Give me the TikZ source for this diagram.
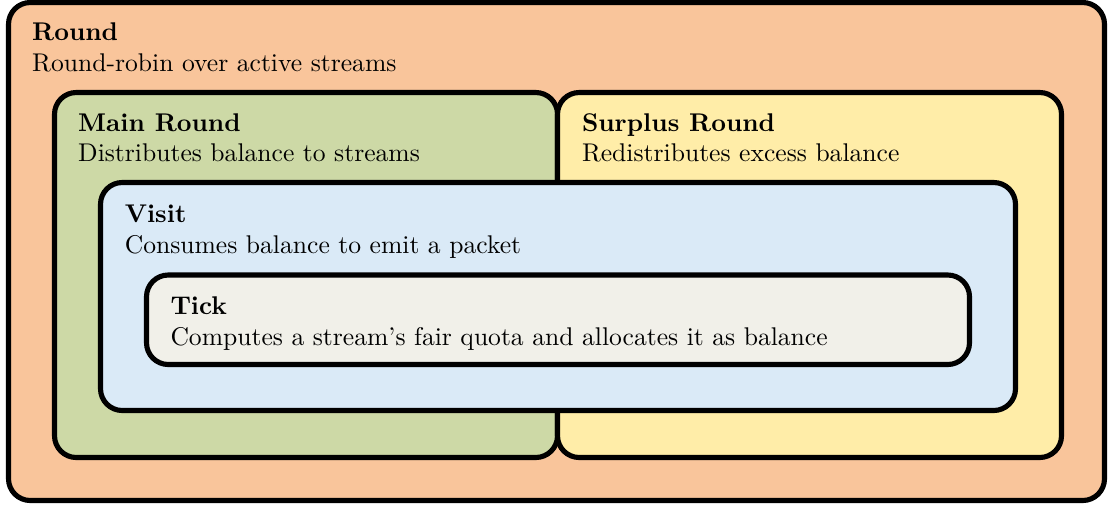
\documentclass[tikz,border=0pt]{standalone}
\usetikzlibrary{fit}
\definecolor{roundfill}{RGB}{249,197,155}
\definecolor{mainfill}{RGB}{205,217,166}
\definecolor{surplusfill}{RGB}{255,237,168}
\definecolor{visitfill}{RGB}{218,234,247}
\definecolor{tickfill}{RGB}{241,240,233}
\tikzset{
  box/.style={draw=black, line width=2pt, rounded corners=8.5pt, inner sep=0pt},
  title/.style={anchor=base west, inner sep=0pt, font=\bfseries},
  desc/.style={anchor=base west, inner sep=0pt},
}
\begin{document}
\begin{tikzpicture}[x=0.3906pt, y=-0.3906pt]
  \useasboundingbox (0,0) rectangle (1108,510);

  % nested scheduling levels, outermost first
  \coordinate (r1) at (8.5,2.5);    \coordinate (r2) at (1104.5,500.5);
  \coordinate (m1) at (54.5,92.5);  \coordinate (m2) at (557.5,457.5);
  \coordinate (s1) at (557.5,92.5); \coordinate (s2) at (1061.5,457.5);
  \coordinate (v1) at (100.5,182.5);\coordinate (v2) at (1015.5,410.5);
  \coordinate (t1) at (146.5,275);  \coordinate (t2) at (969.5,364.5);

  \node[box, fill=roundfill, fit=(r1)(r2)] (round) {};
  \node[box, fill=mainfill, fit=(m1)(m2)] (main) {};
  \node[box, fill=surplusfill, fit=(s1)(s2)] (surplus) {};
  \node[box, fill=visitfill, fit=(v1)(v2)] (visit) {};
  \node[box, fill=tickfill, fit=(t1)(t2)] (tick) {};

  % labels
  \node[title] (roundT) at (31.7,40.8) {Round};
  \node[desc]  (roundD) at (31.7,71.5) {Round-robin over active streams};
  \node[title] (mainT) at (77.7,131.2) {Main Round};
  \node[desc]  (mainD) at (77.7,161.9) {Distributes balance to streams};
  \node[title] (surplusT) at (581.5,131.2) {Surplus Round};
  \node[desc]  (surplusD) at (581.5,161.9) {Redistributes excess balance};
  \node[title] (visitT) at (124.3,222.8) {Visit};
  \node[desc]  (visitD) at (124.3,253.5) {Consumes balance to emit a packet};
  \node[title] (tickT) at (170,314.3) {Tick};
  \node[desc]  (tickD) at (170,345) {Computes a stream's fair quota and allocates it as balance};
\end{tikzpicture}
\end{document}
